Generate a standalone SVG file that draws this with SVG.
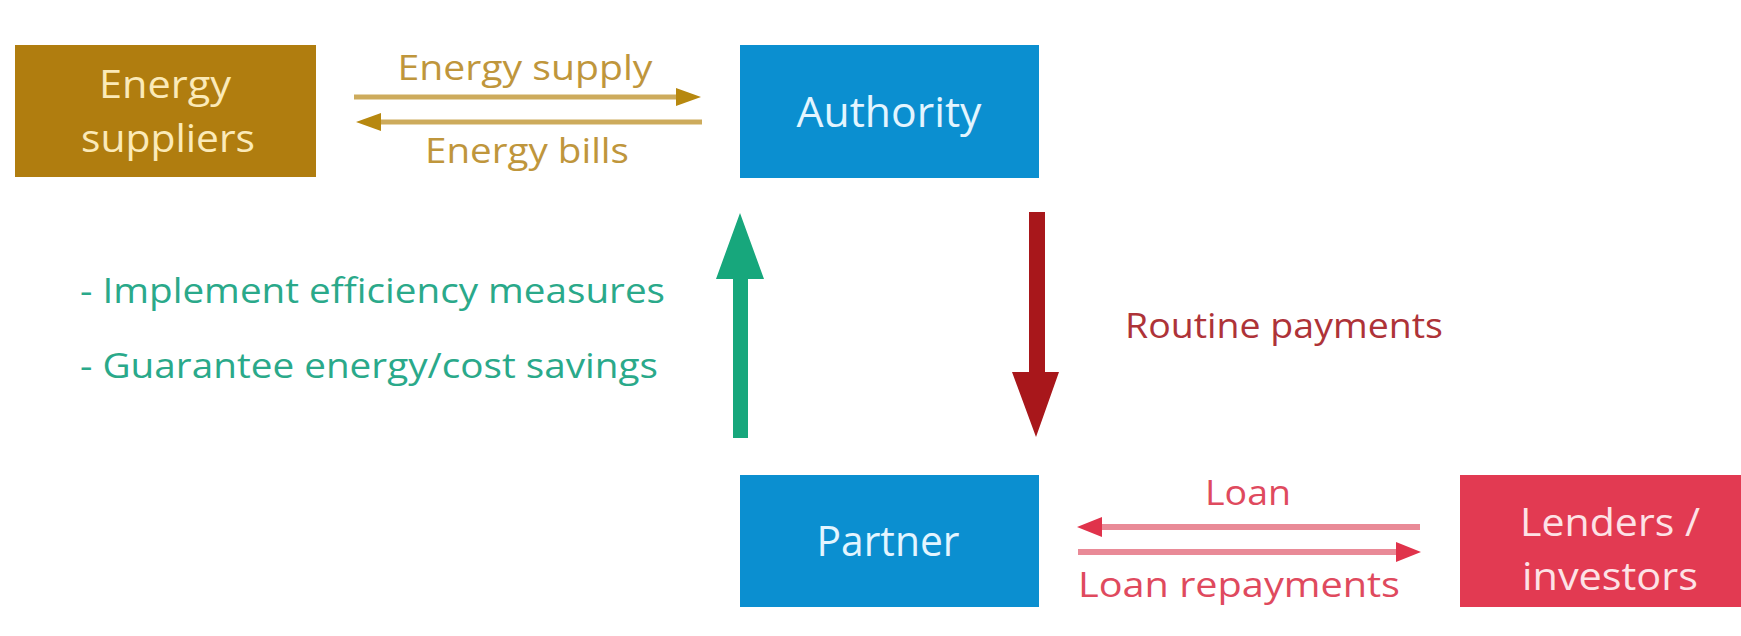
<svg xmlns="http://www.w3.org/2000/svg" width="1741" height="636" viewBox="0 0 1741 636">
  <defs>
    <style>
      text { font-family: "Open Sans", "Noto Sans", "Liberation Sans", sans-serif; }
      .node { font-size: 42px; text-anchor: middle; }
      .node2 { font-size: 39px; text-anchor: middle; }
      .lbl { font-size: 35px; text-anchor: middle; }
      .gold-t { fill: #bf963c; }
      .pink-t { fill: #df4a5e; }
      .green-t { fill: #2aa98a; font-size: 34px; }
      .red-t { fill: #ae3338; }
      .gold-l { stroke: #cdab5c; stroke-width: 5; fill: none; }
      .pink-l { stroke: #e98a97; stroke-width: 6; fill: none; }
    </style>
    <marker id="headGold" markerUnits="userSpaceOnUse" markerWidth="26" markerHeight="18" refX="0" refY="9" orient="auto">
      <path d="M0,0 L25,9 L0,18 Z" fill="#b7880f"/>
    </marker>
    <marker id="headPink" markerUnits="userSpaceOnUse" markerWidth="26" markerHeight="20" refX="0" refY="10" orient="auto">
      <path d="M0,0 L25,10 L0,20 Z" fill="#e0334b"/>
    </marker>
  </defs>
  <rect width="1741" height="636" fill="#ffffff"/>

  <g id="energy-suppliers">
    <rect x="15" y="45" width="301" height="132" fill="#b07d0f"/>
    <text class="node2" fill="#fbeab8"><tspan x="165" y="98" textLength="132" lengthAdjust="spacingAndGlyphs">Energy</tspan><tspan x="168" y="152" textLength="174" lengthAdjust="spacingAndGlyphs">suppliers</tspan></text>
  </g>

  <g id="authority">
    <rect x="740" y="45" width="299" height="133" fill="#0b8fd0"/>
    <text class="node" x="889" y="127" fill="#e3f5ff" textLength="185" lengthAdjust="spacingAndGlyphs">Authority</text>
  </g>

  <g id="partner">
    <rect x="740" y="475" width="299" height="132" fill="#0b8fd0"/>
    <text class="node" x="888" y="556" fill="#e3f5ff" textLength="143" lengthAdjust="spacingAndGlyphs">Partner</text>
  </g>

  <g id="lenders-investors">
    <rect x="1460" y="475" width="281" height="132" fill="#e23a52"/>
    <text class="node2" fill="#fde2e6"><tspan x="1610" y="536" textLength="180" lengthAdjust="spacingAndGlyphs">Lenders /</tspan><tspan x="1610" y="590" textLength="176" lengthAdjust="spacingAndGlyphs">investors</tspan></text>
  </g>

  <g id="connectors">
    <line class="gold-l" x1="354" y1="97" x2="676" y2="97" marker-end="url(#headGold)"/>
    <line class="gold-l" x1="702" y1="122" x2="381" y2="122" marker-end="url(#headGold)"/>
    <polygon points="733,438 748,438 748,279 764,279 740,213 716,279 733,279" fill="#17a77c"/>
    <polygon points="1029,212 1045,212 1045,372 1059,372 1036,437 1012,372 1029,372" fill="#a8171b"/>
    <line class="pink-l" x1="1420" y1="527" x2="1102" y2="527" marker-end="url(#headPink)"/>
    <line class="pink-l" x1="1078" y1="552" x2="1396" y2="552" marker-end="url(#headPink)"/>
  </g>

  <g id="labels">
    <text class="lbl gold-t" x="525" y="80" textLength="255" lengthAdjust="spacingAndGlyphs">Energy supply</text>
    <text class="lbl gold-t" x="527" y="163" textLength="204" lengthAdjust="spacingAndGlyphs">Energy bills</text>
    <text class="green-t" x="80" y="303" textLength="585" lengthAdjust="spacingAndGlyphs">- Implement efficiency measures</text>
    <text class="green-t" x="80" y="378" textLength="578" lengthAdjust="spacingAndGlyphs">- Guarantee energy/cost savings</text>
    <text class="lbl red-t" x="1284" y="338" textLength="318" lengthAdjust="spacingAndGlyphs">Routine payments</text>
    <text class="lbl pink-t" x="1248" y="505" textLength="86" lengthAdjust="spacingAndGlyphs">Loan</text>
    <text class="lbl pink-t" x="1239" y="597" textLength="322" lengthAdjust="spacingAndGlyphs">Loan repayments</text>
  </g>
</svg>
